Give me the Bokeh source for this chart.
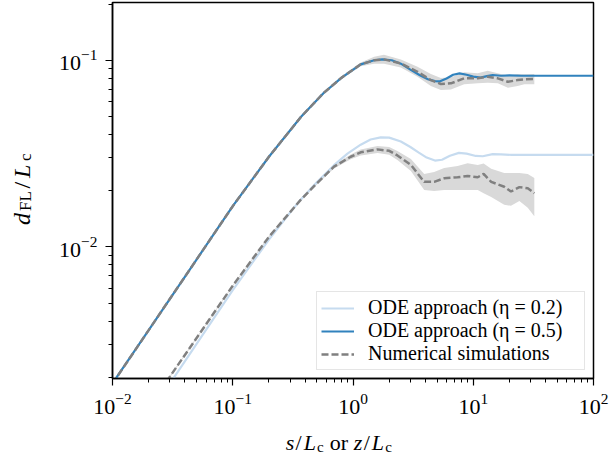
import math
from bokeh.plotting import figure
from bokeh.layouts import row, column
from bokeh.models import FixedTicker, Legend, LegendItem, Range1d
from bokeh.core.properties import value
from bokeh.embed import file_html
from bokeh.resources import INLINE

# ---------------- data ----------------
# ODE approach, eta = 0.5
ode05_x = [0.0100, 0.0107, 0.02, 0.05, 0.1, 0.2, 0.37, 0.57, 0.8, 1.16, 1.5, 1.75, 2.1, 2.5,
           3.0, 3.6, 4.2, 4.8, 5.3, 6.0, 6.8, 7.7, 8.8, 10.0, 11.5, 13.0, 14.5, 17.0, 20.0, 25.0, 100.0]
ode05_y = [0.00185, 0.00198, 0.00358, 0.00855, 0.01652, 0.0304, 0.0498, 0.0668, 0.0805, 0.0951,
           0.1000, 0.1012, 0.1000, 0.0959, 0.0891, 0.0832, 0.0791, 0.0773, 0.0771, 0.0798, 0.0836,
           0.0851, 0.0836, 0.0817, 0.0807, 0.0822, 0.0834, 0.0826, 0.0830, 0.0826, 0.0826]

# ODE approach, eta = 0.2
ode02_x = [0.030, 0.1, 0.2, 0.3126, 0.367, 0.5, 0.695, 0.9, 1.159, 1.4, 1.7, 2.0, 2.5, 3.0, 3.5,
           4.1, 4.8, 5.5, 6.4, 7.6, 8.8, 10.5, 12.0, 14.5, 17.0, 21.0, 100.0]
ode02_y = [0.00185, 0.00586, 0.01094, 0.01578, 0.0179, 0.0222, 0.0274, 0.0316, 0.0353, 0.0376,
           0.0386, 0.0385, 0.0367, 0.0343, 0.0321, 0.0301, 0.0290, 0.0293, 0.0308, 0.0319, 0.0316,
           0.0307, 0.0306, 0.0314, 0.0313, 0.0311, 0.0311]

# Numerical simulations, eta = 0.5 (mean and spread)
sim05_x = [0.0100, 0.02, 0.05, 0.1, 0.2, 0.37, 0.57, 0.8, 1.16, 1.5, 1.81, 2.5, 3.44, 4.44, 5.38,
           6.52, 8.41, 10.9, 13.2, 16.0, 19.4, 23.4, 26.6, 32.2]
sim05_y = [0.00185, 0.00358, 0.00855, 0.01652, 0.0304, 0.0498, 0.0668, 0.0805, 0.0951, 0.1000,
           0.1011, 0.0962, 0.0868, 0.0783, 0.0746, 0.0752, 0.0800, 0.0800, 0.0816, 0.0800, 0.0767,
           0.0783, 0.0791, 0.0793]
sim05_lo = [0.00184, 0.00356, 0.00849, 0.01638, 0.0301, 0.0492, 0.0658, 0.0790, 0.0930, 0.0958,
            0.0957, 0.0916, 0.0816, 0.0727, 0.0693, 0.0698, 0.0743, 0.0752, 0.0758, 0.0752, 0.0712,
            0.0727, 0.0744, 0.0745]
sim05_hi = [0.00186, 0.00360, 0.00861, 0.01666, 0.0307, 0.0504, 0.0678, 0.0820, 0.0972, 0.1044,
            0.1069, 0.1010, 0.0924, 0.0843, 0.0803, 0.0810, 0.0862, 0.0851, 0.0879, 0.0851, 0.0826,
            0.0843, 0.0842, 0.0844]

# Numerical simulations, eta = 0.2 (mean and spread)
sim02_x = [0.028, 0.1, 0.2, 0.367, 0.5, 0.695, 0.957, 1.159, 1.6, 2.0, 2.34, 3.03, 3.91, 4.73,
           5.73, 7.41, 8.98, 10.9, 12.2, 14.1, 18.1, 20.6, 24.2, 28.4, 32.2]
sim02_y = [0.00189, 0.00619, 0.01132, 0.01786, 0.02188, 0.0269, 0.0304, 0.0321, 0.0333, 0.0327,
           0.0309, 0.0275, 0.0223, 0.0223, 0.0233, 0.0236, 0.0240, 0.0236, 0.0246, 0.0223, 0.0210,
           0.0198, 0.0209, 0.0206, 0.0194]
sim02_lo = [0.00187, 0.00613, 0.01118, 0.0176, 0.0215, 0.0263, 0.0295, 0.0309, 0.0318, 0.0312,
            0.0292, 0.0255, 0.0202, 0.0199, 0.0202, 0.0202, 0.0202, 0.0202, 0.0194, 0.0185, 0.0168,
            0.0166, 0.0176, 0.0162, 0.0146]
sim02_hi = [0.00191, 0.00625, 0.01146, 0.0181, 0.0223, 0.0275, 0.0313, 0.0333, 0.0347, 0.0343,
            0.0326, 0.0296, 0.0246, 0.0252, 0.0265, 0.0271, 0.0281, 0.0275, 0.0280, 0.0262, 0.0249,
            0.0249, 0.0249, 0.0246, 0.0234]

x_major_ticks = [0.01, 0.1, 1, 10, 100]
x_minor_ticks = [m * d for d in [0.01, 0.1, 1, 10] for m in range(2, 10)]
y_major_ticks = [0.01, 0.1]
y_minor_ticks = [m * d for d in [0.001, 0.01, 0.1] for m in range(2, 10)]

legend_labels = ["ODE approach (\u03b7 = 0.2)", "ODE approach (\u03b7 = 0.5)", "Numerical simulations"]

# axis-label pieces: (text, font style, size px, subscript drop px, advance px)
xlabel_runs = [("s", "italic", 22, 0, 11.5), ("/", "normal", 22, 0, 9.5), ("L", "italic", 22, 0, 15.5),
               ("c", "normal", 15, 4, 15), ("or", "normal", 22, 0, 28),
               ("z", "italic", 22, 0, 11.5), ("/", "normal", 22, 0, 9.5), ("L", "italic", 22, 0, 15.5),
               ("c", "normal", 15, 4, 8)]
ylabel_runs = [("d", "italic", 24, 0, 14), ("FL", "normal", 17, 4, 22.5), ("/", "normal", 24, 0, 10.5),
               ("L", "italic", 24, 0, 17), ("c", "normal", 17, 4, 9)]

# ---------------- layout sizes ----------------
FONT = "Liberation Serif"
W, H = 611, 458
YL_W = 50                 # strip for y label
MAIN_W, MAIN_H = W - YL_W, 425
XL_H = H - MAIN_H


def blank(width, height):
    f = figure(width=width, height=height, x_range=Range1d(0, width), y_range=Range1d(0, height),
               x_axis_location=None, y_axis_location=None, output_backend="svg",
               toolbar_location=None, min_border=0, outline_line_color=None)
    f.grid.visible = False
    f.background_fill_color = "white"
    f.border_fill_color = "white"
    return f


def draw_runs(f, runs, x0, y0, vertical=False):
    pos = 0.0
    for text, style, size, drop, adv in runs:
        if vertical:
            xx, yy, ang = x0 + drop, y0 + pos, math.pi / 2
        else:
            xx, yy, ang = x0 + pos, y0 - drop, 0.0
        f.text(x=[xx], y=[yy], text=[text], angle=ang, text_font=value(FONT),
               text_font_size=f"{size}px", text_font_style=style, text_color="black",
               text_align="left", text_baseline="alphabetic")
        pos += adv


# ---------------- main figure ----------------
p = figure(width=MAIN_W, height=MAIN_H, x_axis_type="log", y_axis_type="log",
           x_range=(0.01, 100), y_range=(0.00197, 0.204),
           output_backend="svg", toolbar_location=None,
           min_border_left=112 - YL_W, min_border_right=18, min_border_top=2,
           min_border_bottom=MAIN_H - 378)
p.background_fill_color = "white"
p.border_fill_color = "white"
p.outline_line_color = "black"
p.outline_line_width = 1.5
p.xgrid.visible = False
p.ygrid.visible = False

p.xaxis.ticker = FixedTicker(ticks=x_major_ticks, minor_ticks=x_minor_ticks)
p.yaxis.ticker = FixedTicker(ticks=y_major_ticks, minor_ticks=y_minor_ticks)
for ax in (p.xaxis, p.yaxis):
    ax.axis_line_color = "black"
    ax.axis_line_width = 1.5
    ax.major_tick_line_color = "black"
    ax.minor_tick_line_color = "black"
    ax.major_tick_line_width = 1.2
    ax.minor_tick_line_width = 1.0
    ax.major_tick_out = 7
    ax.major_tick_in = 0
    ax.minor_tick_out = 4
    ax.minor_tick_in = 0
    ax.major_label_text_font = FONT
    ax.major_label_text_font_size = "22px"
    ax.major_label_text_color = "black"
    ax.major_label_standoff = 8

band_col = "#d9d9d9"
p.varea(x=sim05_x, y1=sim05_lo, y2=sim05_hi, fill_color=band_col)
p.varea(x=sim02_x, y1=sim02_lo, y2=sim02_hi, fill_color=band_col)

r_l = p.line(ode02_x, ode02_y, line_color="#c6dbef", line_width=2.2)
r_b = p.line(ode05_x, ode05_y, line_color="#3182bd", line_width=2.2)
r_s = p.line(sim05_x, sim05_y, line_color="#808080", line_width=2.5, line_dash="7 3")
p.line(sim02_x, sim02_y, line_color="#808080", line_width=2.5, line_dash="7 3")

legend = Legend(items=[LegendItem(label=legend_labels[0], renderers=[r_l]),
                       LegendItem(label=legend_labels[1], renderers=[r_b]),
                       LegendItem(label=legend_labels[2], renderers=[r_s])],
                location="bottom_right")
legend.label_text_font = FONT
legend.label_text_font_size = "20px"
legend.label_text_color = "black"
legend.glyph_width = 33
legend.glyph_height = 20
legend.label_height = 20
legend.label_width = 212
legend.label_standoff = 14
legend.spacing = 0
legend.padding = 4
legend.margin = 8
legend.border_line_color = "#cccccc"
legend.border_line_width = 1.5
legend.background_fill_alpha = 0.85
p.add_layout(legend)

# ---------------- axis label strips ----------------
ylab = blank(YL_W, H)
yl_total = sum(r[4] for r in ylabel_runs)
draw_runs(ylab, ylabel_runs, 21, (H - 188) - yl_total / 2, vertical=True)

xlab = blank(MAIN_W, XL_H)
xl_total = sum(r[4] for r in xlabel_runs)
draw_runs(xlab, xlabel_runs, (352 - 38 - YL_W) - xl_total / 2, H - 442)

layout = row(ylab, column(p, xlab, spacing=0), spacing=0)
open("out.html", "w").write(file_html(layout, INLINE))
